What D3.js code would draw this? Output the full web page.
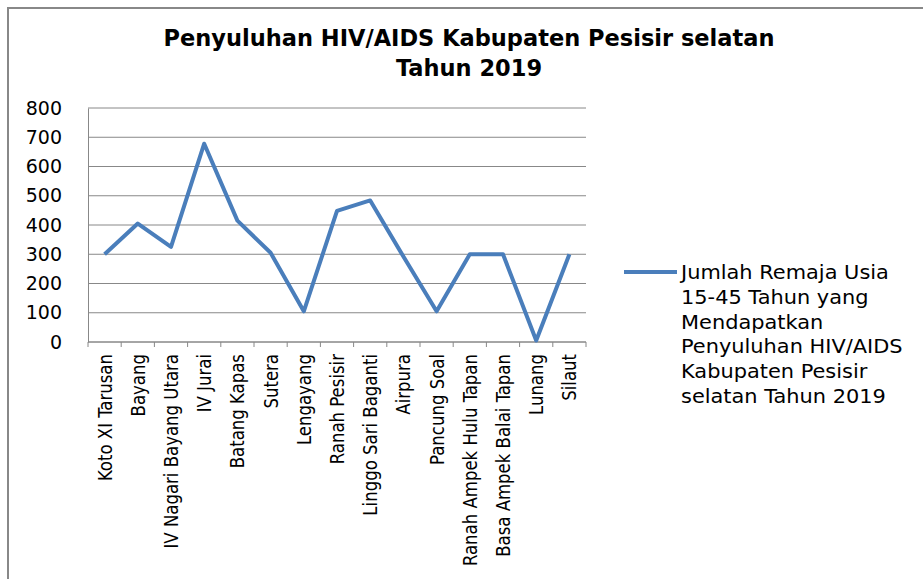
<!DOCTYPE html>
<html>
<head>
<meta charset="utf-8">
<script src="https://cdn.jsdelivr.net/npm/d3@7"></script>
<style>
 body { margin: 0; background: #fff; }
 svg text { fill: #000; }
</style>
</head>
<body>
<div id="chart"></div>
<script>
const categories = [
 "Koto XI Tarusan", "Bayang", "IV Nagari Bayang Utara", "IV Jurai", "Batang Kapas",
 "Sutera", "Lengayang", "Ranah Pesisir", "Linggo Sari Baganti", "Airpura",
 "Pancung Soal", "Ranah Ampek Hulu Tapan", "Basa Ampek Balai Tapan", "Lunang", "Silaut"
];
const values = [300, 405, 325, 678, 415, 305, 105, 448, 484, 292, 105, 300, 300, 5, 300];
const yTicks = [0, 100, 200, 300, 400, 500, 600, 700, 800];
const titleLines = ["Penyuluhan HIV/AIDS Kabupaten Pesisir selatan", "Tahun 2019"];
const legendLines = [
 "Jumlah Remaja Usia", "15-45 Tahun yang", "Mendapatkan",
 "Penyuluhan HIV/AIDS", "Kabupaten Pesisir", "selatan Tahun 2019"
];

(function () {
 const width = 923;
 const height = 579;
 const margin = { top: 108, left: 88, right: 337, bottom: 237 };
 const wide = "'DejaVu Sans', sans-serif";
 const narrow = "'DejaVu Sans Condensed', sans-serif";

 const svg = d3
  .select("#chart")
  .append("svg")
  .attr("width", width)
  .attr("height", height);

 // chart frame (only top and left edges visible)
 svg.append("path")
  .attr("d", "M8,579 V8 H923")
  .attr("fill", "none")
  .attr("stroke", "#888")
  .attr("stroke-width", 2);

 const x = d3.scaleBand()
  .domain(categories)
  .range([margin.left, width - margin.right]);

 const y = d3.scaleLinear()
  .domain([0, 800])
  .range([height - margin.bottom, margin.top]);

 // gridlines
 svg.append("g")
  .selectAll("line")
  .data(yTicks)
  .join("line")
  .attr("x1", margin.left)
  .attr("x2", width - margin.right)
  .attr("y1", d => y(d))
  .attr("y2", d => y(d))
  .attr("stroke", "#888")
  .attr("stroke-width", 1);

 // y axis
 const yAxis = svg.append("g")
  .attr("transform", `translate(${margin.left},0)`)
  .call(d3.axisLeft(y).tickValues(yTicks).tickSize(0).tickPadding(26));
 yAxis.select(".domain").attr("stroke", "#888");
 yAxis.selectAll("text")
  .style("font-family", wide)
  .style("font-size", "19px")
  .attr("fill", "#000");

 // x axis with ticks at category boundaries
 const xAxis = svg.append("g")
  .attr("transform", `translate(0,${y(0)})`);
 xAxis.append("line")
  .attr("x1", margin.left)
  .attr("x2", width - margin.right)
  .attr("stroke", "#888");
 xAxis.selectAll(".tick")
  .data(categories.concat(["end"]))
  .join("line")
  .attr("x1", (d, i) => margin.left + i * x.step())
  .attr("x2", (d, i) => margin.left + i * x.step())
  .attr("y1", 0)
  .attr("y2", 5)
  .attr("stroke", "#888");
 // labels squeezed along their length to mimic a narrow font
 xAxis.selectAll(".lbl")
  .data(categories)
  .join("text")
  .attr("transform", d => `translate(${x(d) + x.bandwidth() / 2 + 7},12) rotate(-90) scale(0.92,1)`)
  .attr("text-anchor", "end")
  .style("font-family", narrow)
  .style("font-size", "20px")
  .text(d => d);

 // line
 const line = d3.line()
  .x((d, i) => x(categories[i]) + x.bandwidth() / 2)
  .y(d => y(d));
 svg.append("path")
  .datum(values)
  .attr("d", line)
  .attr("fill", "none")
  .attr("stroke", "#4a7ebb")
  .attr("stroke-width", 4)
  .attr("stroke-linejoin", "round");

 // title
 svg.append("g")
  .selectAll("text")
  .data(titleLines)
  .join("text")
  .attr("x", 469)
  .attr("y", (d, i) => 46 + i * 30)
  .attr("text-anchor", "middle")
  .style("font-family", wide)
  .style("font-size", "22.5px")
  .style("font-weight", "bold")
  .text(d => d);

 // legend
 svg.append("line")
  .attr("x1", 624)
  .attr("x2", 677)
  .attr("y1", 272)
  .attr("y2", 272)
  .attr("stroke", "#4a7ebb")
  .attr("stroke-width", 4);
 svg.append("g")
  .selectAll("text")
  .data(legendLines)
  .join("text")
  .attr("transform", (d, i) => `translate(681,${279 + i * 24.8}) scale(1.1,1)`)
  .style("font-family", wide)
  .style("font-size", "19px")
  .text(d => d);
})();
</script>
</body>
</html>
